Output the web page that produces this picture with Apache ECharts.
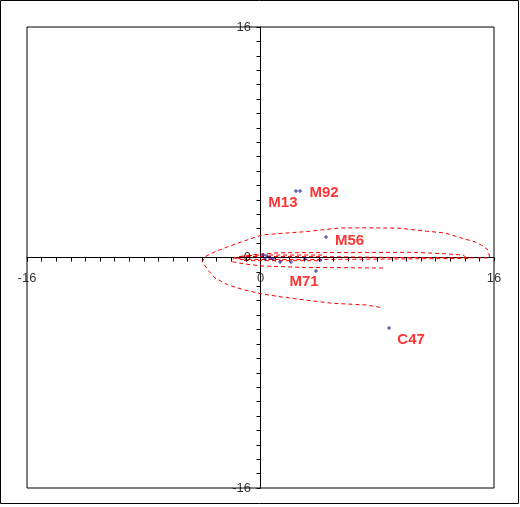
<!DOCTYPE html>
<html><head><meta charset="utf-8">
<script src="https://cdn.jsdelivr.net/npm/echarts@6/dist/echarts.min.js"></script>
<style>html,body{margin:0;padding:0;background:#fff}#c{width:520px;height:507px}</style>
</head><body><div id="c"></div>
<script>
// ---- data ----
const axisMin = -16, axisMax = 16, tickStep = 1;
const shownTickLabels = [-16, 0, 16];

const pointNames = ['M92', 'M13', 'M56', 'M71', 'C47'];
const pointX = [2.71, 2.43, 4.49, 2.09, 8.81];
const pointY = [4.61, 4.61, 1.42, -0.31, -4.89];

const otherX = [0.17, 0.45, 0.65, 0.31, 0.86, 1.34, 3.05, 4.08, 3.80];
const otherY = [0.17, 0.10, -0.03, -0.10, -0.10, -0.31, -0.10, -0.17, -0.94];

const curve1X = [15.70, 15.59, 15.25, 14.70, 14.02, 13.33, 12.65, 11.27, 9.56, 7.51, 5.45, 3.05, 1.34, 0.10, -1.06, -2.23, -3.12, -3.80, -3.99, -3.60, -3.12, -2.23, -1.06, 0.10, 1.47, 3.05, 4.97, 7.30, 8.40];
const curve1Y = [0.03, 0.52, 0.80, 1.08, 1.28, 1.49, 1.70, 1.84, 2.03, 2.06, 2.05, 1.79, 1.67, 1.56, 1.17, 0.75, 0.40, 0.06, -0.29, -0.87, -1.42, -1.91, -2.26, -2.53, -2.74, -2.95, -3.18, -3.30, -3.50];

const curve2X = [14.09, 13.88, 12.30, 10.38, 6.13, 1.34, 0.10, -1.06, -1.82, -1.95, -1.06, 0.10, 3.05, 8.40];
const curve2Y = [0.00, 0.17, 0.28, 0.36, 0.35, 0.33, 0.24, 0.14, -0.03, -0.29, -0.45, -0.59, -0.69, -0.73];

const curve3X = [15.59, 9.56, 4.08, -1.41, -1.75, -1.41, 4.08, 9.56, 14.36];
const curve3Y = [-0.03, 0.00, 0.06, 0.07, -0.03, -0.14, -0.14, -0.10, -0.07];

const curve4X = [4.22, 0.10, -1.06, -1.54, -1.06, 4.22];
const curve4Y = [0.17, 0.17, 0.12, -0.03, -0.22, -0.22];

// ---- styles ----
const labelOffset = { M92: [24, 2], M13: [-13, 12], M56: [23.5, 4], M71: [13, 20], C47: [22, 12] };
const plusPath = 'path://M0,1.5H4V2.5H0Z M1.5,0H2.5V4H1.5Z';
const zip = (xs, ys) => xs.map((x, i) => [x, ys[i]]);
const tickFont = { color: '#000', fontFamily: 'Liberation Sans', fontSize: 13 };

const dashedCurve = (xs, ys) => ({
  type: 'line', data: zip(xs, ys), showSymbol: false, symbol: 'none', smooth: false,
  color: '#ff0000', itemStyle: { color: '#ff0000' },
  lineStyle: { color: '#ff0000', width: 1, type: [4, 3] }, z: 3, silent: true
});

const axisCommon = {
  type: 'value', min: axisMin, max: axisMax, interval: tickStep,
  splitLine: { show: false },
  axisLine: { onZero: true, lineStyle: { color: '#000', width: 1 } },
  axisTick: { show: true, inside: false, length: 4, lineStyle: { color: '#000', width: 1 } },
  axisLabel: { show: false }
};

const chart = echarts.init(document.getElementById('c'), null, { renderer: 'canvas' });
chart.setOption({
  animation: false,
  backgroundColor: '#fff',
  grid: { left: 27, top: 27, right: 26, bottom: 19, show: true, borderColor: '#000', borderWidth: 1, backgroundColor: 'transparent' },
  graphic: [{ type: 'rect', shape: { x: 0.5, y: 0.5, width: 518, height: 503 }, style: { fill: 'none', stroke: '#000', lineWidth: 1 }, silent: true }],
  xAxis: Object.assign({}, axisCommon),
  yAxis: Object.assign({}, axisCommon),
  series: [
    dashedCurve(curve1X, curve1Y),
    dashedCurve(curve2X, curve2Y),
    dashedCurve(curve3X, curve3Y),
    dashedCurve(curve4X, curve4Y),
    {
      type: 'scatter', symbol: plusPath, symbolSize: 4, z: 4,
      itemStyle: { color: '#000080' },
      data: zip(otherX, otherY)
    },
    {
      type: 'scatter', symbol: plusPath, symbolSize: 4, z: 5,
      itemStyle: { color: '#000080' },
      data: pointNames.map((n, i) => ({
        name: n, value: [pointX[i], pointY[i]],
        label: { show: true, position: 'inside', offset: labelOffset[n], formatter: n,
          color: '#ff0000', fontWeight: 'bold', fontSize: 15, fontFamily: 'Liberation Sans' }
      }))
    },
    { // x-axis tick labels along the zero line
      type: 'scatter', symbol: 'circle', symbolSize: 1, silent: true, z: 6,
      itemStyle: { color: 'rgba(0,0,0,0)' },
      label: Object.assign({ show: true, position: 'bottom', distance: 14, formatter: p => String(p.value[0]) }, tickFont),
      data: shownTickLabels.map(v => [v, 0])
    },
    { // y-axis tick labels along the zero line
      type: 'scatter', symbol: 'circle', symbolSize: 1, silent: true, z: 6,
      itemStyle: { color: 'rgba(0,0,0,0)' },
      label: Object.assign({ show: true, position: 'left', distance: 9, formatter: p => String(p.value[1]) }, tickFont),
      data: shownTickLabels.map(v => [0, v])
    }
  ]
});
</script></body></html>
